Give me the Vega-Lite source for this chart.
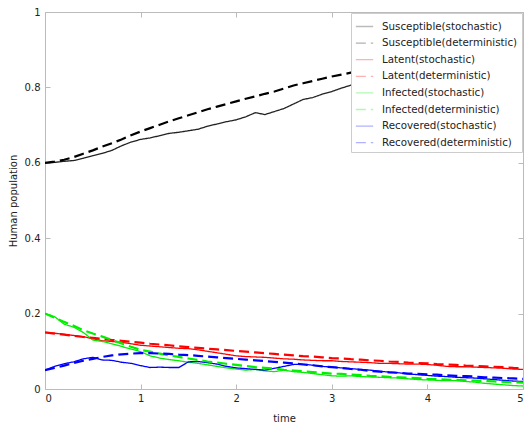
{
  "$schema": "https://vega.github.io/schema/vega-lite/v6.json",
  "width": 478,
  "height": 377,
  "autosize": "none",
  "padding": {"left": 45, "top": 12, "right": 2, "bottom": 37},
  "background": "white",
  "config": {
    "view": {"stroke": "#bbbbbb", "strokeWidth": 1},
    "font": "DejaVu Sans",
    "axis": {
      "domain": false,
      "grid": false,
      "tickColor": "#bbbbbb",
      "tickSize": -5,
      "labelColor": "#222222",
      "labelFontSize": 10,
      "labelFont": "DejaVu Sans",
      "titleFont": "DejaVu Sans",
      "titleFontSize": 10,
      "titleFontWeight": "normal",
      "titleColor": "#222222"
    },
    "legend": {
      "orient": "top-right",
      "offset": 1,
      "strokeColor": "#cccccc",
      "fillColor": "white",
      "padding": 4,
      "labelFont": "DejaVu Sans",
      "labelFontSize": 10.3,
      "labelColor": "#222222",
      "labelOffset": 8,
      "symbolType": "stroke",
      "symbolSize": 300,
      "symbolStrokeWidth": 1.3,
      "symbolOpacity": 0.3,
      "rowPadding": 1.6
    }
  },
  "data": {
    "values": [
      {"t":0.0,"Susceptible(stochastic)":0.600,"Susceptible(deterministic)":0.600,"Latent(stochastic)":0.150,"Latent(deterministic)":0.150,"Infected(stochastic)":0.200,"Infected(deterministic)":0.200,"Recovered(stochastic)":0.050,"Recovered(deterministic)":0.050},
      {"t":0.1,"Susceptible(stochastic)":0.601,"Susceptible(deterministic)":0.603,"Latent(stochastic)":0.148,"Latent(deterministic)":0.147,"Infected(stochastic)":0.192,"Infected(deterministic)":0.189,"Recovered(stochastic)":0.060,"Recovered(deterministic)":0.056},
      {"t":0.2,"Susceptible(stochastic)":0.604,"Susceptible(deterministic)":0.608,"Latent(stochastic)":0.145,"Latent(deterministic)":0.144,"Infected(stochastic)":0.172,"Infected(deterministic)":0.178,"Recovered(stochastic)":0.067,"Recovered(deterministic)":0.062},
      {"t":0.3,"Susceptible(stochastic)":0.606,"Susceptible(deterministic)":0.615,"Latent(stochastic)":0.142,"Latent(deterministic)":0.141,"Infected(stochastic)":0.164,"Infected(deterministic)":0.168,"Recovered(stochastic)":0.072,"Recovered(deterministic)":0.069},
      {"t":0.4,"Susceptible(stochastic)":0.612,"Susceptible(deterministic)":0.624,"Latent(stochastic)":0.139,"Latent(deterministic)":0.138,"Infected(stochastic)":0.150,"Infected(deterministic)":0.156,"Recovered(stochastic)":0.080,"Recovered(deterministic)":0.075},
      {"t":0.5,"Susceptible(stochastic)":0.619,"Susceptible(deterministic)":0.633,"Latent(stochastic)":0.133,"Latent(deterministic)":0.136,"Infected(stochastic)":0.130,"Infected(deterministic)":0.147,"Recovered(stochastic)":0.084,"Recovered(deterministic)":0.080},
      {"t":0.6,"Susceptible(stochastic)":0.625,"Susceptible(deterministic)":0.643,"Latent(stochastic)":0.128,"Latent(deterministic)":0.133,"Infected(stochastic)":0.126,"Infected(deterministic)":0.139,"Recovered(stochastic)":0.077,"Recovered(deterministic)":0.085},
      {"t":0.7,"Susceptible(stochastic)":0.633,"Susceptible(deterministic)":0.652,"Latent(stochastic)":0.126,"Latent(deterministic)":0.130,"Infected(stochastic)":0.120,"Infected(deterministic)":0.130,"Recovered(stochastic)":0.076,"Recovered(deterministic)":0.089},
      {"t":0.8,"Susceptible(stochastic)":0.645,"Susceptible(deterministic)":0.662,"Latent(stochastic)":0.124,"Latent(deterministic)":0.128,"Infected(stochastic)":0.113,"Infected(deterministic)":0.121,"Recovered(stochastic)":0.071,"Recovered(deterministic)":0.092},
      {"t":0.9,"Susceptible(stochastic)":0.655,"Susceptible(deterministic)":0.673,"Latent(stochastic)":0.120,"Latent(deterministic)":0.125,"Infected(stochastic)":0.106,"Infected(deterministic)":0.112,"Recovered(stochastic)":0.068,"Recovered(deterministic)":0.094},
      {"t":1.0,"Susceptible(stochastic)":0.662,"Susceptible(deterministic)":0.683,"Latent(stochastic)":0.116,"Latent(deterministic)":0.123,"Infected(stochastic)":0.099,"Infected(deterministic)":0.104,"Recovered(stochastic)":0.062,"Recovered(deterministic)":0.095},
      {"t":1.1,"Susceptible(stochastic)":0.666,"Susceptible(deterministic)":0.692,"Latent(stochastic)":0.114,"Latent(deterministic)":0.120,"Infected(stochastic)":0.088,"Infected(deterministic)":0.099,"Recovered(stochastic)":0.057,"Recovered(deterministic)":0.095},
      {"t":1.2,"Susceptible(stochastic)":0.672,"Susceptible(deterministic)":0.701,"Latent(stochastic)":0.112,"Latent(deterministic)":0.118,"Infected(stochastic)":0.082,"Infected(deterministic)":0.094,"Recovered(stochastic)":0.058,"Recovered(deterministic)":0.094},
      {"t":1.3,"Susceptible(stochastic)":0.678,"Susceptible(deterministic)":0.710,"Latent(stochastic)":0.110,"Latent(deterministic)":0.116,"Infected(stochastic)":0.078,"Infected(deterministic)":0.089,"Recovered(stochastic)":0.057,"Recovered(deterministic)":0.093},
      {"t":1.4,"Susceptible(stochastic)":0.681,"Susceptible(deterministic)":0.718,"Latent(stochastic)":0.108,"Latent(deterministic)":0.113,"Infected(stochastic)":0.075,"Infected(deterministic)":0.085,"Recovered(stochastic)":0.057,"Recovered(deterministic)":0.091},
      {"t":1.5,"Susceptible(stochastic)":0.685,"Susceptible(deterministic)":0.726,"Latent(stochastic)":0.107,"Latent(deterministic)":0.111,"Infected(stochastic)":0.071,"Infected(deterministic)":0.081,"Recovered(stochastic)":0.072,"Recovered(deterministic)":0.090},
      {"t":1.6,"Susceptible(stochastic)":0.689,"Susceptible(deterministic)":0.734,"Latent(stochastic)":0.104,"Latent(deterministic)":0.109,"Infected(stochastic)":0.068,"Infected(deterministic)":0.077,"Recovered(stochastic)":0.073,"Recovered(deterministic)":0.088},
      {"t":1.7,"Susceptible(stochastic)":0.697,"Susceptible(deterministic)":0.742,"Latent(stochastic)":0.100,"Latent(deterministic)":0.107,"Infected(stochastic)":0.064,"Infected(deterministic)":0.073,"Recovered(stochastic)":0.070,"Recovered(deterministic)":0.086},
      {"t":1.8,"Susceptible(stochastic)":0.703,"Susceptible(deterministic)":0.749,"Latent(stochastic)":0.096,"Latent(deterministic)":0.105,"Infected(stochastic)":0.060,"Infected(deterministic)":0.070,"Recovered(stochastic)":0.066,"Recovered(deterministic)":0.084},
      {"t":1.9,"Susceptible(stochastic)":0.709,"Susceptible(deterministic)":0.756,"Latent(stochastic)":0.092,"Latent(deterministic)":0.103,"Infected(stochastic)":0.056,"Infected(deterministic)":0.067,"Recovered(stochastic)":0.060,"Recovered(deterministic)":0.082},
      {"t":2.0,"Susceptible(stochastic)":0.714,"Susceptible(deterministic)":0.763,"Latent(stochastic)":0.088,"Latent(deterministic)":0.101,"Infected(stochastic)":0.053,"Infected(deterministic)":0.064,"Recovered(stochastic)":0.056,"Recovered(deterministic)":0.080},
      {"t":2.1,"Susceptible(stochastic)":0.722,"Susceptible(deterministic)":0.770,"Latent(stochastic)":0.086,"Latent(deterministic)":0.099,"Infected(stochastic)":0.050,"Infected(deterministic)":0.061,"Recovered(stochastic)":0.054,"Recovered(deterministic)":0.078},
      {"t":2.2,"Susceptible(stochastic)":0.733,"Susceptible(deterministic)":0.776,"Latent(stochastic)":0.085,"Latent(deterministic)":0.097,"Infected(stochastic)":0.052,"Infected(deterministic)":0.058,"Recovered(stochastic)":0.052,"Recovered(deterministic)":0.076},
      {"t":2.3,"Susceptible(stochastic)":0.728,"Susceptible(deterministic)":0.783,"Latent(stochastic)":0.084,"Latent(deterministic)":0.095,"Infected(stochastic)":0.048,"Infected(deterministic)":0.056,"Recovered(stochastic)":0.050,"Recovered(deterministic)":0.074},
      {"t":2.4,"Susceptible(stochastic)":0.736,"Susceptible(deterministic)":0.789,"Latent(stochastic)":0.082,"Latent(deterministic)":0.093,"Infected(stochastic)":0.046,"Infected(deterministic)":0.054,"Recovered(stochastic)":0.055,"Recovered(deterministic)":0.072},
      {"t":2.5,"Susceptible(stochastic)":0.744,"Susceptible(deterministic)":0.797,"Latent(stochastic)":0.080,"Latent(deterministic)":0.091,"Infected(stochastic)":0.050,"Infected(deterministic)":0.051,"Recovered(stochastic)":0.060,"Recovered(deterministic)":0.070},
      {"t":2.6,"Susceptible(stochastic)":0.756,"Susceptible(deterministic)":0.805,"Latent(stochastic)":0.079,"Latent(deterministic)":0.089,"Infected(stochastic)":0.046,"Infected(deterministic)":0.049,"Recovered(stochastic)":0.065,"Recovered(deterministic)":0.068},
      {"t":2.7,"Susceptible(stochastic)":0.768,"Susceptible(deterministic)":0.811,"Latent(stochastic)":0.077,"Latent(deterministic)":0.087,"Infected(stochastic)":0.044,"Infected(deterministic)":0.047,"Recovered(stochastic)":0.066,"Recovered(deterministic)":0.065},
      {"t":2.8,"Susceptible(stochastic)":0.773,"Susceptible(deterministic)":0.817,"Latent(stochastic)":0.076,"Latent(deterministic)":0.086,"Infected(stochastic)":0.041,"Infected(deterministic)":0.045,"Recovered(stochastic)":0.063,"Recovered(deterministic)":0.063},
      {"t":2.9,"Susceptible(stochastic)":0.782,"Susceptible(deterministic)":0.823,"Latent(stochastic)":0.075,"Latent(deterministic)":0.084,"Infected(stochastic)":0.038,"Infected(deterministic)":0.043,"Recovered(stochastic)":0.060,"Recovered(deterministic)":0.060},
      {"t":3.0,"Susceptible(stochastic)":0.789,"Susceptible(deterministic)":0.829,"Latent(stochastic)":0.075,"Latent(deterministic)":0.082,"Infected(stochastic)":0.035,"Infected(deterministic)":0.041,"Recovered(stochastic)":0.058,"Recovered(deterministic)":0.058},
      {"t":3.1,"Susceptible(stochastic)":0.798,"Susceptible(deterministic)":0.834,"Latent(stochastic)":0.073,"Latent(deterministic)":0.081,"Infected(stochastic)":0.034,"Infected(deterministic)":0.040,"Recovered(stochastic)":0.056,"Recovered(deterministic)":0.056},
      {"t":3.2,"Susceptible(stochastic)":0.806,"Susceptible(deterministic)":0.839,"Latent(stochastic)":0.072,"Latent(deterministic)":0.079,"Infected(stochastic)":0.035,"Infected(deterministic)":0.038,"Recovered(stochastic)":0.054,"Recovered(deterministic)":0.053},
      {"t":3.3,"Susceptible(stochastic)":0.810,"Susceptible(deterministic)":0.844,"Latent(stochastic)":0.071,"Latent(deterministic)":0.078,"Infected(stochastic)":0.033,"Infected(deterministic)":0.037,"Recovered(stochastic)":0.052,"Recovered(deterministic)":0.051},
      {"t":3.4,"Susceptible(stochastic)":0.814,"Susceptible(deterministic)":0.849,"Latent(stochastic)":0.070,"Latent(deterministic)":0.076,"Infected(stochastic)":0.032,"Infected(deterministic)":0.035,"Recovered(stochastic)":0.050,"Recovered(deterministic)":0.048},
      {"t":3.5,"Susceptible(stochastic)":0.818,"Susceptible(deterministic)":0.853,"Latent(stochastic)":0.068,"Latent(deterministic)":0.075,"Infected(stochastic)":0.031,"Infected(deterministic)":0.034,"Recovered(stochastic)":0.047,"Recovered(deterministic)":0.046},
      {"t":3.6,"Susceptible(stochastic)":0.822,"Susceptible(deterministic)":0.858,"Latent(stochastic)":0.068,"Latent(deterministic)":0.073,"Infected(stochastic)":0.030,"Infected(deterministic)":0.032,"Recovered(stochastic)":0.045,"Recovered(deterministic)":0.044},
      {"t":3.7,"Susceptible(stochastic)":0.826,"Susceptible(deterministic)":0.862,"Latent(stochastic)":0.067,"Latent(deterministic)":0.072,"Infected(stochastic)":0.029,"Infected(deterministic)":0.031,"Recovered(stochastic)":0.043,"Recovered(deterministic)":0.043},
      {"t":3.8,"Susceptible(stochastic)":0.829,"Susceptible(deterministic)":0.866,"Latent(stochastic)":0.066,"Latent(deterministic)":0.070,"Infected(stochastic)":0.027,"Infected(deterministic)":0.030,"Recovered(stochastic)":0.040,"Recovered(deterministic)":0.041},
      {"t":3.9,"Susceptible(stochastic)":0.832,"Susceptible(deterministic)":0.871,"Latent(stochastic)":0.066,"Latent(deterministic)":0.069,"Infected(stochastic)":0.025,"Infected(deterministic)":0.029,"Recovered(stochastic)":0.038,"Recovered(deterministic)":0.040},
      {"t":4.0,"Susceptible(stochastic)":0.836,"Susceptible(deterministic)":0.875,"Latent(stochastic)":0.065,"Latent(deterministic)":0.068,"Infected(stochastic)":0.024,"Infected(deterministic)":0.027,"Recovered(stochastic)":0.036,"Recovered(deterministic)":0.039},
      {"t":4.1,"Susceptible(stochastic)":0.839,"Susceptible(deterministic)":0.879,"Latent(stochastic)":0.063,"Latent(deterministic)":0.066,"Infected(stochastic)":0.023,"Infected(deterministic)":0.026,"Recovered(stochastic)":0.034,"Recovered(deterministic)":0.038},
      {"t":4.2,"Susceptible(stochastic)":0.842,"Susceptible(deterministic)":0.884,"Latent(stochastic)":0.060,"Latent(deterministic)":0.065,"Infected(stochastic)":0.022,"Infected(deterministic)":0.025,"Recovered(stochastic)":0.033,"Recovered(deterministic)":0.036},
      {"t":4.3,"Susceptible(stochastic)":0.845,"Susceptible(deterministic)":0.888,"Latent(stochastic)":0.059,"Latent(deterministic)":0.064,"Infected(stochastic)":0.022,"Infected(deterministic)":0.024,"Recovered(stochastic)":0.031,"Recovered(deterministic)":0.035},
      {"t":4.4,"Susceptible(stochastic)":0.848,"Susceptible(deterministic)":0.892,"Latent(stochastic)":0.059,"Latent(deterministic)":0.062,"Infected(stochastic)":0.020,"Infected(deterministic)":0.023,"Recovered(stochastic)":0.030,"Recovered(deterministic)":0.034},
      {"t":4.5,"Susceptible(stochastic)":0.851,"Susceptible(deterministic)":0.896,"Latent(stochastic)":0.058,"Latent(deterministic)":0.061,"Infected(stochastic)":0.018,"Infected(deterministic)":0.022,"Recovered(stochastic)":0.029,"Recovered(deterministic)":0.033},
      {"t":4.6,"Susceptible(stochastic)":0.853,"Susceptible(deterministic)":0.900,"Latent(stochastic)":0.057,"Latent(deterministic)":0.060,"Infected(stochastic)":0.015,"Infected(deterministic)":0.021,"Recovered(stochastic)":0.027,"Recovered(deterministic)":0.031},
      {"t":4.7,"Susceptible(stochastic)":0.856,"Susceptible(deterministic)":0.904,"Latent(stochastic)":0.056,"Latent(deterministic)":0.059,"Infected(stochastic)":0.013,"Infected(deterministic)":0.020,"Recovered(stochastic)":0.025,"Recovered(deterministic)":0.030},
      {"t":4.8,"Susceptible(stochastic)":0.859,"Susceptible(deterministic)":0.909,"Latent(stochastic)":0.055,"Latent(deterministic)":0.058,"Infected(stochastic)":0.011,"Infected(deterministic)":0.019,"Recovered(stochastic)":0.023,"Recovered(deterministic)":0.029},
      {"t":4.9,"Susceptible(stochastic)":0.862,"Susceptible(deterministic)":0.913,"Latent(stochastic)":0.053,"Latent(deterministic)":0.056,"Infected(stochastic)":0.009,"Infected(deterministic)":0.018,"Recovered(stochastic)":0.021,"Recovered(deterministic)":0.028},
      {"t":5.0,"Susceptible(stochastic)":0.864,"Susceptible(deterministic)":0.917,"Latent(stochastic)":0.052,"Latent(deterministic)":0.055,"Infected(stochastic)":0.008,"Infected(deterministic)":0.017,"Recovered(stochastic)":0.020,"Recovered(deterministic)":0.027}
    ]
  },
  "transform": [
    {"fold": ["Susceptible(stochastic)","Susceptible(deterministic)","Latent(stochastic)","Latent(deterministic)","Infected(stochastic)","Infected(deterministic)","Recovered(stochastic)","Recovered(deterministic)"], "as": ["series","value"]}
  ],
  "layer": [
    {
      "encoding": {
        "x": {"field": "t", "type": "quantitative", "scale": {"domain": [0, 5], "nice": false}, "axis": {"title": "time", "values": [0,1,2,3,4,5], "labelPadding": 9, "titlePadding": 10}},
        "y": {"field": "value", "type": "quantitative", "scale": {"domain": [0, 1], "nice": false}, "axis": {"title": "Human population", "values": [0,0.2,0.4,0.6,0.8,1], "format": "~g", "labelPadding": 10, "titlePadding": 6}},
        "color": {"field": "series", "type": "nominal", "sort": null, "legend": {"title": null},
          "scale": {"domain": ["Susceptible(stochastic)","Susceptible(deterministic)","Latent(stochastic)","Latent(deterministic)","Infected(stochastic)","Infected(deterministic)","Recovered(stochastic)","Recovered(deterministic)"],
                    "range": ["#222222","#000000","#ff0000","#ff0000","#00ee00","#00ee00","#0000ff","#0000ff"]}},
        "strokeDash": {"field": "series", "type": "nominal", "sort": null, "legend": {"title": null},
          "scale": {"domain": ["Susceptible(stochastic)","Susceptible(deterministic)","Latent(stochastic)","Latent(deterministic)","Infected(stochastic)","Infected(deterministic)","Recovered(stochastic)","Recovered(deterministic)"],
                    "range": [[1,0],[10,5],[1,0],[10,5],[1,0],[10,5],[1,0],[10,5]]}},
        "order": {"field": "t", "type": "quantitative"}
      },
      "layer": [
        {
          "transform": [{"filter": "indexof(datum.series, 'stochastic') >= 0"}],
          "mark": {"type": "line", "clip": true, "strokeWidth": 1.3}
        },
        {
          "transform": [{"filter": "indexof(datum.series, 'deterministic') >= 0"}],
          "mark": {"type": "line", "clip": true, "strokeWidth": 2.2}
        }
      ]
    },
    {
      "mark": {"type": "point", "opacity": 0},
      "encoding": {
        "x": {"field": "t", "type": "quantitative", "axis": {"orient": "top", "labels": false, "title": null, "values": [0,1,2,3,4,5]}},
        "y": {"field": "value", "type": "quantitative", "axis": {"orient": "right", "labels": false, "title": null, "values": [0,0.2,0.4,0.6,0.8,1]}}
      }
    }
  ],
  "resolve": {"axis": {"x": "independent", "y": "independent"}}
}
